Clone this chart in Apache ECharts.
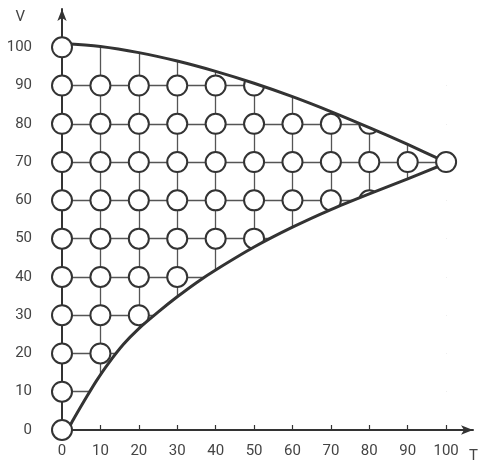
<!DOCTYPE html>
<html>
<head>
<meta charset="utf-8">
<title>V-T grid</title>
<script src="https://cdn.jsdelivr.net/npm/echarts@6/dist/echarts.min.js"></script>
<style>
    html, body { margin: 0; padding: 0; background: #fff; }
    #chart { width: 481px; height: 468px; }
</style>
</head>
<body>
<div id="chart"></div>
<script>
// axis ticks
const tTicks = [0, 10, 20, 30, 40, 50, 60, 70, 80, 90, 100];
const vTicks = [0, 10, 20, 30, 40, 50, 60, 70, 80, 90, 100];

// upper boundary curve
const upperT = [0, 10, 20, 30, 40, 50, 60, 70, 80, 90, 100];
const upperV = [101, 100.2, 98.6, 96.4, 93.7, 90.6, 87.1, 83.2, 79.0, 74.6, 70];

// lower boundary curve
const lowerT = [1.5, 3, 6.5, 9, 12, 16, 20, 25, 30, 35, 40, 50, 60, 70, 80, 90, 100];
const lowerV = [0, 2.8, 8.8, 12.9, 17.3, 22.4, 26.5, 30.8, 34.8, 38.5, 41.8, 47.8, 53, 57.6, 61.7, 65.6, 69.7];

// nodes: each row V has circles from T=0 up to rowLastT
const rowV     = [0, 10, 20, 30, 40, 50, 60, 70, 80, 90, 100];
const rowLastT = [0, 0, 10, 20, 30, 50, 80, 100, 80, 50, 0];

// the far corner node sits on top of both curves
const tipNode = [100, 70];

const T_MAX = 107;
const V_MAX = 110;
const INK = '#333';

// inner nodes get clipped by the white masks, nodes on the V axis
// and the tip are drawn over the curves and the axis line
const innerNodes = [];
const topNodes = [tipNode];
rowV.forEach((v, i) => {
    tTicks.forEach(t => {
        if (t > rowLastT[i]) return;
        if (t === 0) topNodes.push([t, v]);
        else if (!(t === tipNode[0] && v === tipNode[1])) innerNodes.push([t, v]);
    });
});

// thin grid lines, trimmed by the white masks outside the curves
const gridLines = [];
vTicks.forEach(v => {
    if (v > 0 && v < 100) gridLines.push({ coords: [[0, v], [100, v]] });
});
tTicks.forEach(t => {
    if (t > 0 && t < 100) gridLines.push({ coords: [[t, 0], [t, V_MAX]] });
});

const upperData = upperT.map((t, i) => [t, upperV[i]]);
const lowerData = lowerT.map((t, i) => [t, lowerV[i]]);

const labelStyle = {
    color: '#444',
    fontSize: 15,
    fontFamily: 'Roboto'
};

const nodeStyle = { color: '#fff', borderColor: INK, borderWidth: 2, opacity: 1 };

const chart = echarts.init(document.getElementById('chart'));

const option = {
    animation: false,
    grid: { left: 62, right: 8, top: 9, bottom: 38 },
    xAxis: {
        type: 'value',
        min: 0,
        max: T_MAX,
        z: 10,
        name: 'T',
        nameLocation: 'end',
        nameGap: -4,
        nameTextStyle: Object.assign({}, labelStyle, {
            verticalAlign: 'top',
            padding: [19, 0, 0, 0]
        }),
        axisLine: {
            onZero: false,
            symbol: ['none', 'arrow'],
            symbolSize: [7, 12],
            lineStyle: { color: INK, width: 2 }
        },
        axisTick: {
            show: true,
            inside: true,
            length: 5,
            customValues: tTicks,
            lineStyle: { color: INK, width: 1.2 }
        },
        axisLabel: Object.assign({}, labelStyle, {
            margin: 14,
            customValues: tTicks
        }),
        splitLine: { show: false }
    },
    yAxis: {
        type: 'value',
        min: 0,
        max: V_MAX,
        z: 10,
        name: 'V',
        nameLocation: 'end',
        nameGap: -16,
        nameTextStyle: Object.assign({}, labelStyle, {
            align: 'right',
            verticalAlign: 'bottom',
            padding: [0, 37, 0, 0]
        }),
        axisLine: {
            onZero: false,
            symbol: ['none', 'arrow'],
            symbolSize: [7, 12],
            lineStyle: { color: INK, width: 2 }
        },
        axisTick: { show: false },
        axisLabel: Object.assign({}, labelStyle, {
            margin: 30,
            customValues: vTicks
        }),
        splitLine: { show: false }
    },
    series: [
        {
            name: 'grid',
            type: 'lines',
            coordinateSystem: 'cartesian2d',
            z: 1,
            silent: true,
            lineStyle: { color: '#555', width: 1.3, opacity: 1 },
            data: gridLines
        },
        {
            name: 'nodes',
            type: 'scatter',
            z: 2,
            symbol: 'circle',
            symbolSize: 20,
            itemStyle: nodeStyle,
            data: innerNodes
        },
        {
            name: 'upper',
            type: 'line',
            z: 3,
            smooth: 0.3,
            showSymbol: false,
            lineStyle: { color: INK, width: 3 },
            areaStyle: { color: '#fff', opacity: 1, origin: 'end' },
            data: upperData
        },
        {
            name: 'lower',
            type: 'line',
            z: 3,
            smooth: 0.3,
            showSymbol: false,
            lineStyle: { color: INK, width: 3 },
            areaStyle: { color: '#fff', opacity: 1, origin: 'start' },
            data: lowerData
        },
        {
            name: 'axis nodes',
            type: 'scatter',
            z: 12,
            symbol: 'circle',
            symbolSize: 20,
            itemStyle: nodeStyle,
            data: topNodes
        }
    ]
};

chart.setOption(option);

window.addEventListener('resize', () => chart.resize());
</script>
</body>
</html>
